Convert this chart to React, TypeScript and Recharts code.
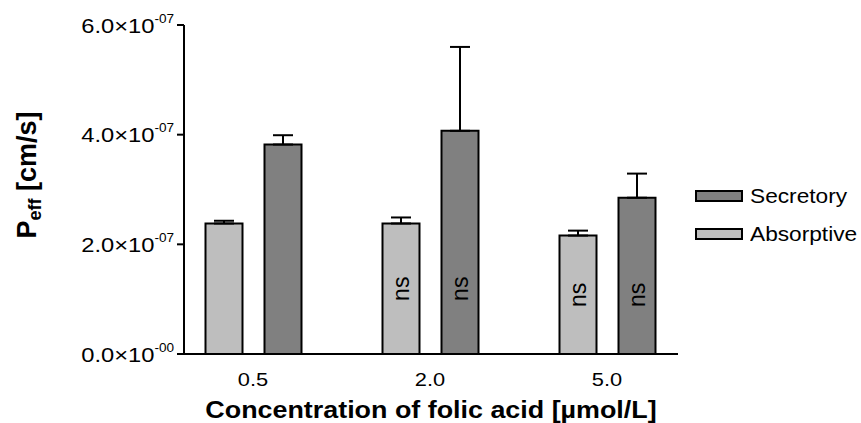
import React from "react";
import { BarChart, Bar, XAxis, YAxis, ErrorBar, LabelList } from "recharts";

const categories = ["0.5", "2.0", "5.0"];
const absorptive = [2.38e-7, 2.38e-7, 2.16e-7];
const absorptiveErr = [0.05e-7, 0.11e-7, 0.09e-7];
const secretory = [3.82e-7, 4.07e-7, 2.85e-7];
const secretoryErr = [0.17e-7, 1.53e-7, 0.44e-7];
const absorptiveSig = ["", "ns", "ns"];
const secretorySig = ["", "ns", "ns"];
const yTicks = [0, 2e-7, 4e-7, 6e-7];
const yTickLabels = ["0.0×10", "2.0×10", "4.0×10", "6.0×10"];
const yTickExps = ["-00", "-07", "-07", "-07"];
const legendNames = ["Secretory", "Absorptive"];

const data = categories.map((c, i) => ({
  cat: c,
  absorptive: absorptive[i],
  absErr: [0, absorptiveErr[i]],
  secretory: secretory[i],
  secErr: [0, secretoryErr[i]],
  absSig: absorptiveSig[i],
  secSig: secretorySig[i],
}));

const FONT = "'Liberation Sans', Arial, sans-serif";
const ABS_FILL = "#bebebe";
const SEC_FILL = "#808080";

const YTick = (props: any) => {
  const { x, y, payload } = props;
  const idx = yTicks.indexOf(payload.value);
  return (
    <text
      x={0}
      y={0}
      transform={`translate(${x}, ${y + 7.5}) scale(1.13, 1)`}
      textAnchor="end"
      fontFamily={FONT}
      fontSize={21}
      fill="#000"
    >
      <tspan>{yTickLabels[idx]}</tspan>
      <tspan dy={-10} fontSize={12}>{yTickExps[idx]}</tspan>
    </text>
  );
};

const XTick = (props: any) => {
  const { x, y, payload } = props;
  return (
    <text
      x={0}
      y={0}
      transform={`translate(${x}, 386) scale(1.15, 1)`}
      textAnchor="middle"
      fontFamily={FONT}
      fontSize={19}
      fill="#000"
    >
      {payload.value}
    </text>
  );
};

const makeSigLabel = (key: "absSig" | "secSig") => (props: any) => {
  const { x, y, width, height, index } = props;
  const d = data[index];
  const txt = d[key];
  if (!txt) return null;
  const value = key === "absSig" ? d.absorptive : d.secretory;
  const base = y + height;
  const pxPer = height / value;
  const cy = base - (d.absorptive / 2) * pxPer;
  const cx = x + width / 2;
  return (
    <text
      x={cx}
      y={cy}
      transform={`rotate(-90, ${cx}, ${cy})`}
      textAnchor="middle"
      dominantBaseline="central"
      fontFamily={FONT}
      fontSize={23}
      fill="#000"
    >
      {txt}
    </text>
  );
};

export default function App() {
  const fills = [SEC_FILL, ABS_FILL];
  return (
    <div style={{ position: "absolute", left: 0, top: 0, width: 861, height: 423, background: "#fff" }}>
      <BarChart
        width={861}
        height={423}
        data={data}
        margin={{ top: 25, right: 183, bottom: 0, left: 0 }}
        barSize={37}
        barGap={22}
      >
        <XAxis
          dataKey="cat"
          height={69}
          tick={<XTick />}
          tickLine={false}
          axisLine={{ stroke: "#000", strokeWidth: 2 }}
          padding={{ left: -19.5, right: -17.5 }}
          interval={0}
          label={{
            content: () => (
              <text
                x={0}
                y={0}
                transform="translate(431, 418) scale(1.12, 1)"
                textAnchor="middle"
                fontFamily={FONT}
                fontSize={24}
                fontWeight="bold"
                fill="#000"
              >
                Concentration of folic acid [µmol/L]
              </text>
            ),
          }}
        />
        <YAxis
          width={184}
          domain={[0, 6e-7]}
          ticks={yTicks}
          tick={<YTick />}
          tickSize={7}
          tickMargin={3}
          tickLine={{ stroke: "#000", strokeWidth: 2 }}
          axisLine={{ stroke: "#000", strokeWidth: 2 }}
          allowDataOverflow
          label={{
            content: () => (
              <text
                x={36}
                y={175}
                transform="rotate(-90, 36, 175)"
                textAnchor="middle"
                fontFamily={FONT}
                fontSize={27}
                fontWeight="bold"
                fill="#000"
              >
                <tspan>P</tspan>
                <tspan dy={5} fontSize={18}>eff</tspan>
                <tspan dy={-5}> [cm/s]</tspan>
              </text>
            ),
          }}
        />
        <Bar dataKey="absorptive" name="Absorptive" fill={ABS_FILL} stroke="#000" strokeWidth={2} isAnimationActive={false}>
          <ErrorBar dataKey="absErr" width={10} stroke="#000" strokeWidth={2} direction="y" />
          <LabelList dataKey="absSig" content={makeSigLabel("absSig")} />
        </Bar>
        <Bar dataKey="secretory" name="Secretory" fill={SEC_FILL} stroke="#000" strokeWidth={2} isAnimationActive={false}>
          <ErrorBar dataKey="secErr" width={10} stroke="#000" strokeWidth={2} direction="y" />
          <LabelList dataKey="secSig" content={makeSigLabel("secSig")} />
        </Bar>
      </BarChart>
      <div style={{ position: "absolute", left: 695, top: 177, fontFamily: FONT, fontSize: 21, color: "#000" }}>
        {legendNames.map((n, i) => (
          <div key={n} style={{ display: "flex", alignItems: "center", height: 38 }}>
            <div style={{ width: 44, height: 8, background: fills[i], border: "2px solid #000", marginRight: 7 }} />
            <span style={{ display: "inline-block", transform: "scaleX(1.08)", transformOrigin: "left center" }}>{n}</span>
          </div>
        ))}
      </div>
    </div>
  );
}
